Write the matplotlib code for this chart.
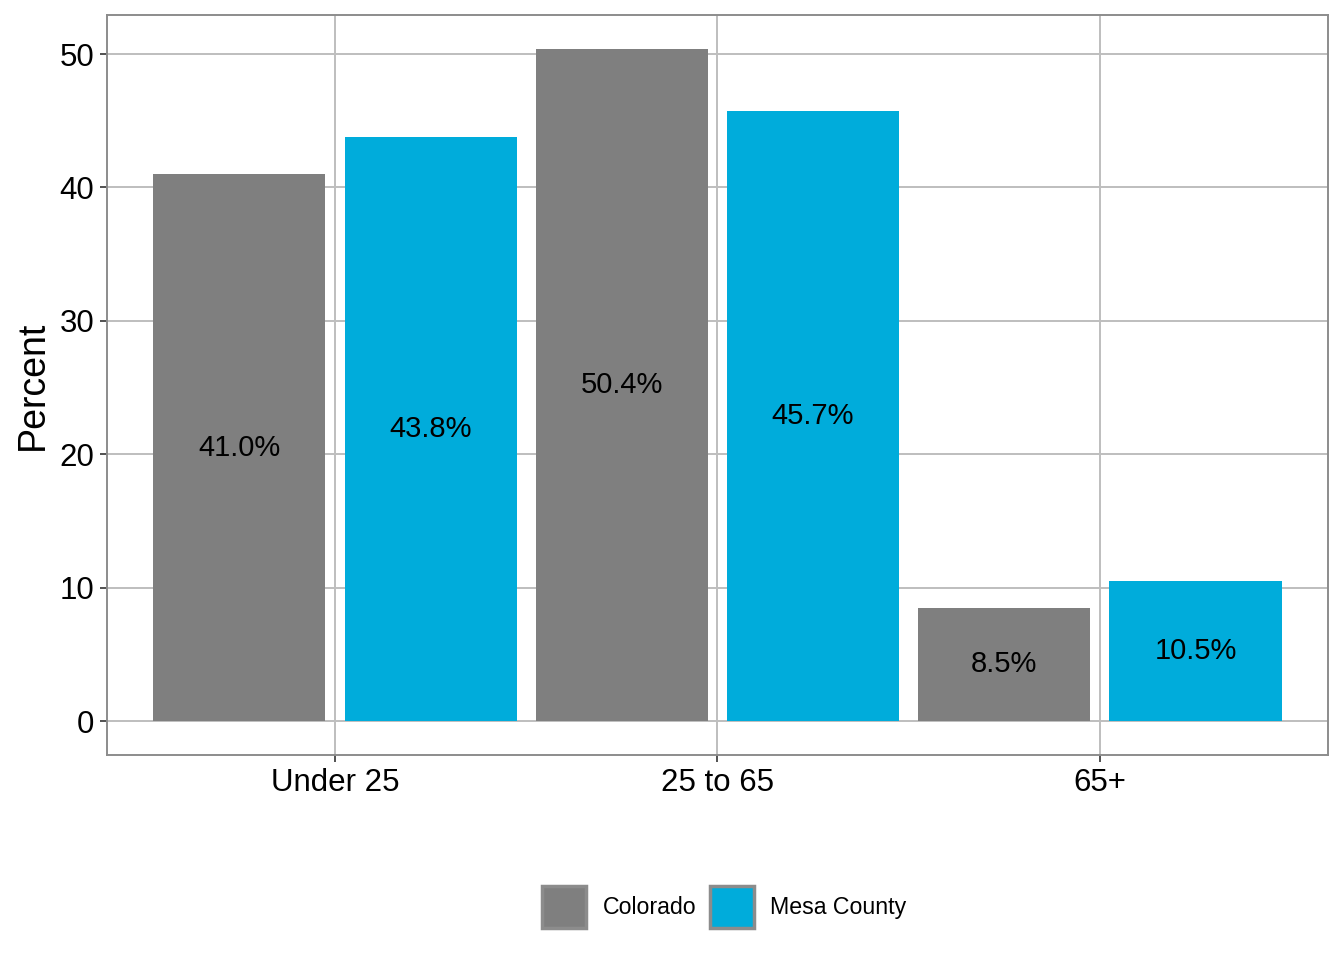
import numpy as np
import matplotlib.pyplot as plt
from matplotlib.patches import Patch

plt.rcParams['font.family'] = ['Liberation Sans', 'DejaVu Sans']

categories = ['Under 25', '25 to 65', '65+']
colorado = [41.0, 50.4, 8.5]
mesa = [43.8, 45.7, 10.5]
series_names = ['Colorado', 'Mesa County']
colors = ['#7f7f7f', '#00acdb']

fig = plt.figure(figsize=(13.44, 9.6), dpi=100)
ax = fig.add_axes([0.0796, 0.2135, 0.9084, 0.7705])

x = np.arange(1, len(categories) + 1)
w = 0.45
offs = [-0.25, 0.25]
for vals, off, c in zip([colorado, mesa], offs, colors):
    ax.bar(x + off, vals, width=w, color=c, zorder=2)
    for xi, v in zip(x + off, vals):
        ax.text(xi, v / 2, f'{v:.1f}%', ha='center', va='center',
                fontsize=21, color='black', zorder=3)

ax.set_xlim(0.404, 3.596)
ax.set_ylim(-2.55, 52.9)
ax.set_xticks(x)
ax.set_xticklabels(categories, fontsize=22.5)
ax.set_yticks(range(0, 51, 10))
ax.tick_params(axis='y', labelsize=22.5, length=5, width=1.2, color='#333333', pad=4)
ax.tick_params(axis='x', length=5, width=1.2, color='#333333', pad=4)
ax.grid(True, color='#bebebe', linewidth=1.4, zorder=0)
ax.set_axisbelow(True)
for s in ax.spines.values():
    s.set_color('#8c8c8c')
    s.set_linewidth(1.4)
ax.set_ylabel('Percent', fontsize=27, labelpad=6)

# legend keys: grey outline around the fill
handles = [Patch(facecolor=c, edgecolor='#8c8c8c', linewidth=2.5) for c in colors]
fig.legend(handles, series_names, loc='center', bbox_to_anchor=(0.539, 0.055),
           ncol=2, frameon=False, fontsize=16.7, handlelength=1.9, handleheight=2.4,
           columnspacing=0.6, handletextpad=0.7)

fig.savefig('out.png', dpi=100)
